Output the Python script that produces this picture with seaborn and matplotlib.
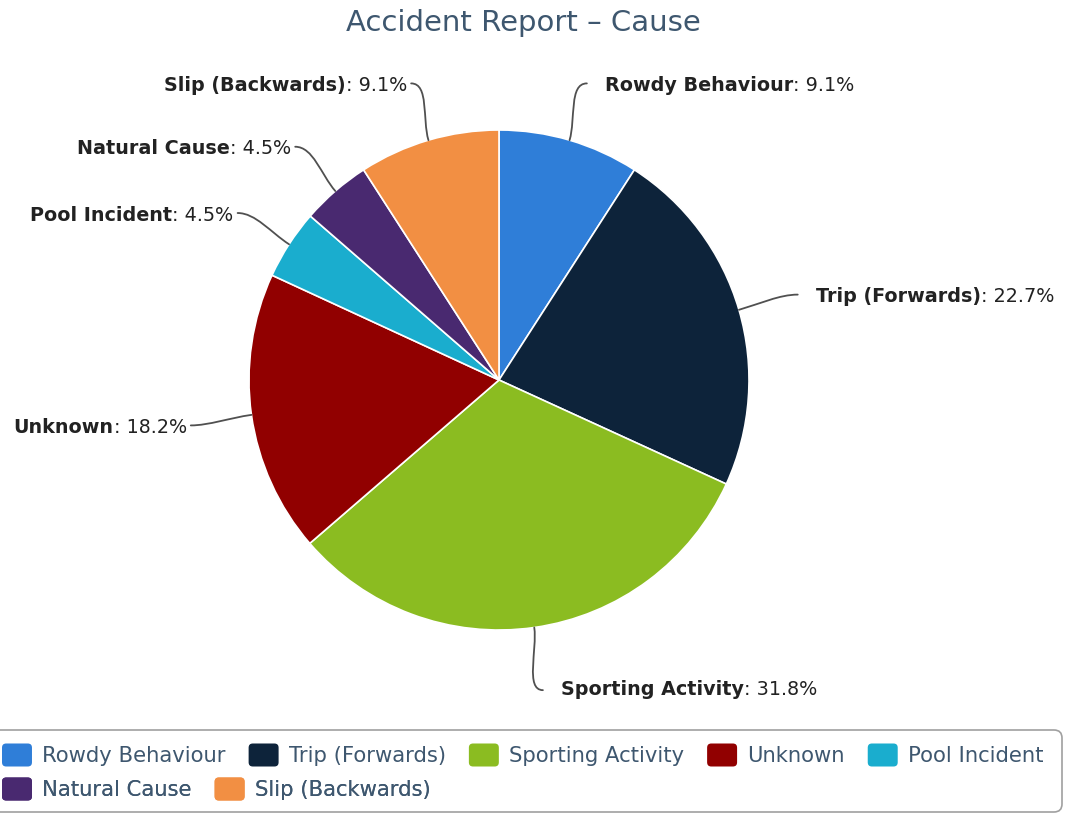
import numpy as np
import matplotlib
matplotlib.use("Agg")
import matplotlib.pyplot as plt
from matplotlib.patches import FancyBboxPatch, PathPatch, Wedge
from matplotlib.path import Path
from matplotlib.legend_handler import HandlerBase
import seaborn as sns

# Accident causes and their share of all reported accidents (%)
causes = ["Rowdy Behaviour", "Trip (Forwards)", "Sporting Activity", "Unknown",
          "Pool Incident", "Natural Cause", "Slip (Backwards)"]
shares = [9.1, 22.7, 31.8, 18.2, 4.5, 4.5, 9.1]
colors = ["#2f7ed8", "#0d233a", "#8bbc21", "#910000", "#1aadce", "#492970", "#f28f43"]
title = "Accident Report – Cause"
legend_rows = [causes[:5], causes[5:]]

sns.set_theme(style="white")
plt.rcParams["font.family"] = ["DejaVu Sans"]

TITLE_COLOR = "#3E576F"
LABEL_COLOR = "#222222"
LINE_COLOR = "#505050"
LABEL_SIZE = 13.8

W, H = 1068, 816
fig = plt.figure(figsize=(W / 100, H / 100), dpi=100)
ax = fig.add_axes([0, 0, 1, 1])

cx, cy, R = 499, H - 380, 250
wedges, _ = ax.pie(shares, colors=colors, startangle=90, counterclock=False,
                   radius=R, center=(cx, cy),
                   wedgeprops=dict(edgecolor="white", linewidth=1.2))
ax.set_xlim(0, W)
ax.set_ylim(0, H)
ax.set_aspect("equal")
ax.axis("off")

# data labels with curved connectors
for w, name, val in zip(wedges, causes, shares):
    mid = np.deg2rad((w.theta1 + w.theta2) / 2)
    ux, uy = np.cos(mid), np.sin(mid)
    p0 = (cx + R * ux, cy + R * uy)
    p3 = (cx + 1.245 * R * ux, cy + 1.245 * R * uy - 2)
    side = 1 if ux >= 0 else -1
    p1 = (p0[0] + 22 * ux, p0[1] + 22 * uy)
    p2 = (p3[0] - side * 18, p3[1])
    path = Path([p0, p1, p2, p3],
                [Path.MOVETO, Path.CURVE4, Path.CURVE4, Path.CURVE4])
    ax.add_patch(PathPatch(path, fill=False, edgecolor=LINE_COLOR, lw=1.3,
                           capstyle="round"))
    value_txt = f": {val:.1f}%"
    ty = p3[1] - 2 if uy > -0.9 else p3[1] + 1
    if side > 0:
        t = ax.text(p3[0] + 18, ty, name, ha="left", va="center",
                    fontsize=LABEL_SIZE, fontweight="bold", color=LABEL_COLOR)
        ax.annotate(value_txt, xy=(1, 0), xycoords=t, ha="left", va="bottom",
                    fontsize=LABEL_SIZE, color=LABEL_COLOR)
    else:
        t = ax.text(p3[0] - 4, ty, value_txt, ha="right", va="center",
                    fontsize=LABEL_SIZE, color=LABEL_COLOR)
        ax.annotate(name, xy=(0, 0), xycoords=t, ha="right", va="bottom",
                    fontsize=LABEL_SIZE, fontweight="bold", color=LABEL_COLOR)

fig.text(523 / W, 1 - 23 / H, title, ha="center", va="center",
         fontsize=21, color=TITLE_COLOR)


class RoundedSwatch(HandlerBase):
    def create_artists(self, legend, orig_handle, xdescent, ydescent,
                       width, height, fontsize, trans):
        p = FancyBboxPatch((-xdescent, -ydescent), width, height,
                           boxstyle="round,pad=0,rounding_size=3",
                           facecolor=orig_handle.get_facecolor(),
                           edgecolor="none", transform=trans)
        return [p]


handle_of = dict(zip(causes, wedges))
row_y = [H - 755, H - 789]
for names, yy in zip(legend_rows, row_y):
    leg = ax.legend([handle_of[n] for n in names], names, ncol=len(names),
                    loc="center left", bbox_to_anchor=(2, yy),
                    bbox_transform=ax.transData, frameon=False,
                    fontsize=15.2, labelcolor=TITLE_COLOR,
                    handler_map={Wedge: RoundedSwatch()},
                    handlelength=1.42, handleheight=1.3, handletextpad=0.47,
                    columnspacing=1.1, borderpad=0, borderaxespad=0)
    ax.add_artist(leg)

ax.add_patch(FancyBboxPatch((-10, H - 812), 1072, 82,
                            boxstyle="round,pad=0,rounding_size=8",
                            facecolor="none", edgecolor="#a0a0a0", lw=1.2,
                            clip_on=False))

fig.savefig("out.png", dpi=100, facecolor="white")
